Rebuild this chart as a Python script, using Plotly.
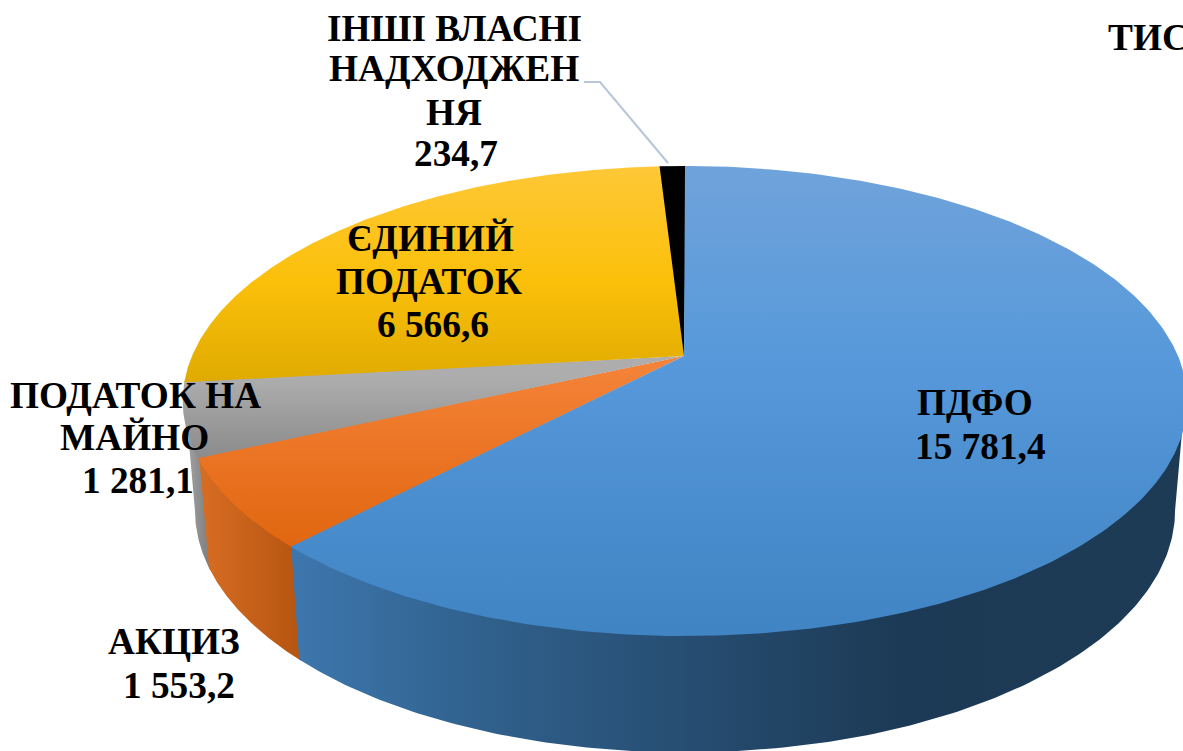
import numpy as np
import plotly.graph_objects as go

categories = ["ПДФО", "АКЦИЗ", "ПОДАТОК НА МАЙНО", "ЄДИНИЙ ПОДАТОК", "ІНШІ ВЛАСНІ НАДХОДЖЕННЯ"]
values = [15781.4, 1553.2, 1281.1, 6566.6, 234.7]
unit_text = "ТИС. ГРН"

label_lines = [
    ["ПДФО", "15 781,4"],
    ["АКЦИЗ", "1 553,2"],
    ["ПОДАТОК НА", "МАЙНО", "1 281,1"],
    ["ЄДИНИЙ", "ПОДАТОК", "6 566,6"],
    ["ІНШІ ВЛАСНІ", "НАДХОДЖЕН", "НЯ", "234,7"],
]
label_x = [[975, 980], [174, 179], [135, 134, 138], [430, 429, 433], [454, 454, 454, 456]]
label_y = [[402, 446], [641, 685], [395, 437, 480], [238, 281, 324], [28, 68, 112, 153]]

top_colors = [
    [(166, "#70a3db"), (356, "#5799da"), (636, "#4084c4")],
    [(356, "#f5843a"), (547, "#e1660f")],
    [(378, "#adadad"), (460, "#8a8a8a")],
    [(166, "#fec837"), (280, "#fbc00a"), (380, "#e0ab00")],
    [(166, "#000000"), (356, "#000000")],
]
wall_colors = [
    [(300, "#3d76ac"), (500, "#2f5f8a"), (700, "#264c70"), (900, "#1c3a55"), (1180, "#1e3b56")],
    [(205, "#d66c22"), (303, "#b45410")],
    [(184, "#a6a6a6"), (212, "#7a7a7a")],
]

# Perspective model of the disc
CX, CY = 685, 356
B, A, P = 493, 226.4, 0.1915
B_LOW, A_LOW, Y_LOW = 481, 233.2, 464
TOP_VIS = (100, 260)
LOW_VIS = (101, 259)
SEAM = 0.2


def project(theta, b, a, y0):
    t = np.radians(theta)
    u, v = np.sin(t), -np.cos(t)
    w = 1 - P * v
    return CX + b * u / w, y0 + a * v / w


def scale(stops):
    lo, hi = stops[0][0], stops[-1][0]
    return [[(p - lo) / (hi - lo), c] for p, c in stops], lo, hi


fig = go.Figure()


def poly(xs, ys, stops, kind):
    cs, lo, hi = scale(stops)
    fig.add_trace(go.Scatter(
        x=list(xs), y=list(ys), mode="lines", line=dict(width=0), fill="toself",
        fillgradient=dict(type=kind, colorscale=cs, start=lo, stop=hi),
        hoverinfo="skip", showlegend=False,
    ))


total = sum(values)
edges = np.concatenate([[0], np.cumsum(values)]) / total * 360

# side walls, drawn last to first so each seam is overlapped
for i in reversed(range(len(wall_colors))):
    t0 = TOP_VIS[0] if i == 0 else edges[i] - SEAM
    l0 = LOW_VIS[0] if i == 0 else edges[i] - SEAM
    t1 = TOP_VIS[1] if i == 2 else edges[i + 1] + SEAM
    l1 = LOW_VIS[1] if i == 2 else edges[i + 1] + SEAM
    tx, ty = project(np.linspace(t0, t1, 160), B - 2, A - 2, CY)
    lx, ly = project(np.linspace(l0, l1, 160), B_LOW, A_LOW, Y_LOW)
    poly(np.r_[tx, lx[::-1]], np.r_[ty, ly[::-1]], wall_colors[i], "horizontal")

# top faces, each running slightly under the next one
order = [1, 2, 3, 4, 0]
for i in order:
    stops = top_colors[i]
    start = edges[i] - (SEAM if i != 0 else 0)
    end = edges[i + 1] + (SEAM if i != 0 else 0)
    th = np.linspace(start, end, 300)
    tx, ty = project(th, B, A, CY)
    poly(np.r_[CX - 1, tx], np.r_[CY, ty], stops, "vertical")

fig.add_trace(go.Scatter(
    x=[668, 600, 584], y=[163, 82, 82], mode="lines",
    line=dict(color="#b7c6d8", width=2), hoverinfo="skip", showlegend=False,
))

font = dict(family="Liberation Serif", size=37.3, color="#000000", weight=700)
ann = []
for lines, xs, ys in zip(label_lines, label_x, label_y):
    for t, x, y in zip(lines, xs, ys):
        ann.append(dict(x=x, y=y, text=t, showarrow=False, xanchor="center", yanchor="middle",
                        font=font, xref="x", yref="y"))
ann.append(dict(x=1106, y=37, text=unit_text, showarrow=False, xanchor="left", yanchor="middle",
                font=font, xref="x", yref="y"))

fig.update_layout(
    width=1183, height=751, margin=dict(l=0, r=0, t=0, b=0),
    paper_bgcolor="white", plot_bgcolor="white", showlegend=False,
    xaxis=dict(range=[0, 1183], visible=False, fixedrange=True),
    yaxis=dict(range=[751, 0], visible=False, fixedrange=True),
    annotations=ann,
)
fig.write_html("out.html", config=dict(displayModeBar=False),
               post_script="document.body.style.margin='0';document.body.style.overflow='hidden';")
